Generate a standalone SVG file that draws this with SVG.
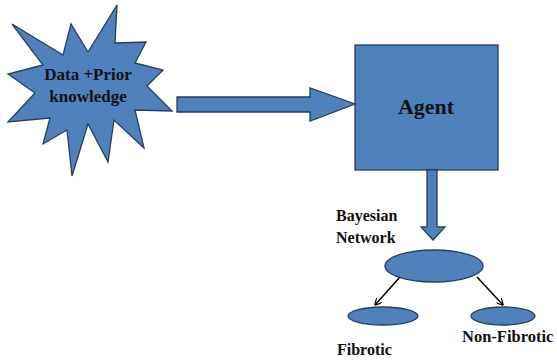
<svg xmlns="http://www.w3.org/2000/svg" width="557" height="362" viewBox="0 0 557 362">
<defs>
<style>
.shape{fill:#4F81BD;stroke:#24405F;stroke-width:1.3;stroke-linejoin:miter}
.lbl{font-family:"Liberation Serif","Times New Roman",serif;font-weight:bold;fill:#111}
.conn{stroke:#000;stroke-width:1.5;fill:none}
</style>
<marker id="ah" viewBox="0 0 10 10" refX="9" refY="5" markerWidth="7" markerHeight="7" orient="auto" markerUnits="userSpaceOnUse">
<path d="M0,0 L10,5 L0,10" fill="none" stroke="#000" stroke-width="1.6"/>
</marker>
</defs>
<rect width="557" height="362" fill="#fff"/>
<g id="data-prior">
<polygon class="shape" points="12,24 63,55 71,24 88,52 117,5 115,43 146,42 135,63 163,70 147,86 172,111 135,110 144,148 114,120 108,162 88,124 72,176 67,130 43,144 50,118 8,122 35,93 8,74 43,65"/>
<text class="lbl" x="88" y="80" font-size="17" text-anchor="middle">Data +Prior</text>
<text class="lbl" x="88" y="102" font-size="17" text-anchor="middle">knowledge</text>
</g>
<g id="agent">
<rect class="shape" x="355" y="45" width="143" height="125"/>
<text class="lbl" x="426" y="114" font-size="22" text-anchor="middle">Agent</text>
</g>
<g id="bayesian-network">
<ellipse class="shape" cx="434" cy="266" rx="49" ry="16"/>
<text class="lbl" x="336" y="221" font-size="16">Bayesian</text>
<text class="lbl" x="336" y="243" font-size="16">Network</text>
</g>
<g id="fibrotic">
<ellipse class="shape" cx="383" cy="316" rx="35" ry="9"/>
<text class="lbl" x="337" y="355" font-size="16">Fibrotic</text>
</g>
<g id="non-fibrotic">
<ellipse class="shape" cx="503" cy="316" rx="32" ry="9"/>
<text class="lbl" x="462" y="342" font-size="16.5">Non-Fibrotic</text>
</g>
<g id="connectors">
<polygon class="shape" points="177,97 310,97 310,88 355,104 310,121 310,112 177,112"/>
<polygon class="shape" points="427,170 437,170 437,227 445,227 433,240 421,227 427,227"/>
<line class="conn" x1="400" y1="277" x2="375" y2="305" marker-end="url(#ah)"/>
<line class="conn" x1="477" y1="277" x2="503" y2="305" marker-end="url(#ah)"/>
</g>
</svg>
